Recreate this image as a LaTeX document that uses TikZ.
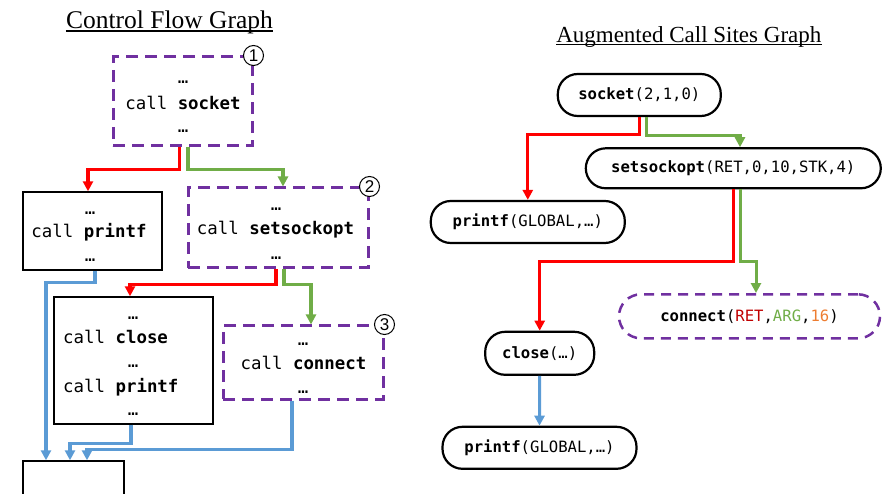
\documentclass[tikz,border=0pt]{standalone}
\usepackage{fontspec}
\setmainfont{Liberation Serif}
\newfontfamily\codefont{DejaVu Sans Mono}
\newfontfamily\numfont{Liberation Sans}
\usetikzlibrary{arrows.meta}

\definecolor{cfpurple}{HTML}{7030A0}
\definecolor{flowred}{HTML}{FF0000}
\definecolor{flowgreen}{HTML}{70AD47}
\definecolor{flowblue}{HTML}{5B9BD5}
\definecolor{argred}{HTML}{C00000}
\definecolor{argorange}{HTML}{ED7D31}

\tikzset{
  heading/.style={inner sep=0pt, anchor=base, font=\fontsize{#1}{#1}\selectfont},
  uline/.style={line width=1.2pt},
  codeline/.style={inner sep=0pt, anchor=base, font=\codefont\fontsize{17.4}{20}\selectfont},
  codeleft/.style={codeline, anchor=base west},
  dashblock/.style={draw=cfpurple, line width=3pt, dash pattern=on 12pt off 7pt, inner sep=0pt},
  plainblock/.style={draw=black, line width=1.4pt, inner sep=0pt},
  badge/.style={circle, draw=black, line width=1pt, fill=white, minimum size=20pt,
    inner sep=0pt, font=\numfont\fontsize{17}{17}\selectfont},
  callsite/.style={draw=black, line width=2.2pt, rounded corners=20pt, inner sep=0pt,
    font=\codefont\fontsize{15.6}{18}\selectfont},
  tip/.style={-{Triangle[length=10pt,width=10pt]}},
  redflow/.style={draw=flowred, line width=3.6pt, tip},
  greenflow/.style={draw=flowgreen, line width=3.2pt, tip},
  blueflow/.style={draw=flowblue, line width=3.2pt, tip},
}

\begin{document}
\begin{tikzpicture}[x=1pt, y=-1pt]
\useasboundingbox (0,0) rectangle (889,494);
\clip (0,0) rectangle (889,494);

% ---------- left: control flow graph ----------
\node[heading=25.5] (t1) at (169.5,28.5) {Control Flow Graph};
\draw[uline] ([yshift=-2.5pt]t1.base west) -- ([yshift=-2.5pt]t1.base east);

% block 1: socket
\node[dashblock, minimum width=139pt, minimum height=89pt] (b1) at (182.5,101.5) {};
\node[badge] (n1) at (b1.north east) {1};
\node[codeline] (b1a) at (183,84) {…};
\node[codeline] (b1b) at (183,110) {call \textbf{socket}};
\node[codeline] (b1c) at (183,133) {…};

% block: printf
\node[plainblock, minimum width=139pt, minimum height=78pt] (p1) at (92.5,231) {};
\node[codeline] (p1a) at (90,214.5) {…};
\node[codeline] (p1b) at (89,238) {call \textbf{printf}};
\node[codeline] (p1c) at (90,262) {…};

% block 2: setsockopt
\node[dashblock, minimum width=180pt, minimum height=80pt] (b2) at (278,228) {};
\node[badge] (n2) at (b2.north east) {2};
\node[codeline] (b2a) at (276,211) {…};
\node[codeline] (b2b) at (275.5,235) {call \textbf{setsockopt}};
\node[codeline] (b2c) at (276,259.5) {…};

% block: close / printf
\node[plainblock, minimum width=159pt, minimum height=127pt] (c1) at (133.5,360.5) {};
\node[codeline] (c1a) at (133,319.5) {…};
\node[codeleft] (c1b) at (63,344) {call \textbf{close}};
\node[codeline] (c1c) at (133,367.5) {…};
\node[codeleft] (c1d) at (63,392) {call \textbf{printf}};
\node[codeline] (c1e) at (133,415.5) {…};

% block 3: connect
\node[dashblock, minimum width=160pt, minimum height=73pt] (b3) at (303,362.5) {};
\node[badge] (n3) at (b3.north east) {3};
\node[codeline] (b3a) at (303,345.5) {…};
\node[codeline] (b3b) at (303.5,370) {call \textbf{connect}};
\node[codeline] (b3c) at (303,393.5) {…};

% exit block
\node[plainblock, minimum width=101pt, minimum height=60pt] (e1) at (73.5,491) {};

% edges
\draw[redflow] ([xshift=-3]b1.south) -- ++(0,22) -| ([xshift=-4.5]p1.north);
\draw[greenflow] ([xshift=5.5]b1.south) -- ++(0,22) -| ([xshift=5]b2.north);
\draw[redflow] ([xshift=-2]b2.south) -- ++(0,15) -| ([xshift=-3.5]c1.north);
\draw[greenflow] ([xshift=6]b2.south) -- ++(0,15) -| ([xshift=8]b3.north);
\draw[blueflow] ([xshift=2.5]p1.south) -- ++(0,12) -| ([xshift=-27.5]e1.north);
\draw[blueflow] ([xshift=-2.5]c1.south) -- ++(0,19) -| ([xshift=-3.5]e1.north);
\draw[blueflow] ([xshift=-11]b3.south) -- ++(0,49) -| ([xshift=13.5]e1.north);

% ---------- right: augmented call sites graph ----------
\node[heading=23] (t2) at (688.8,42.5) {Augmented Call Sites Graph};
\draw[uline] ([yshift=-2.2pt]t2.base west) -- ([yshift=-2.2pt]t2.base east);

\node[callsite, minimum width=163pt, minimum height=42pt] (s1) at (639.3,95)
  {\textbf{socket}(2,1,0)};
\node[callsite, minimum width=295pt, minimum height=40pt] (ss) at (733.3,168.3)
  {\textbf{setsockopt}(RET,0,10,STK,4)};
\node[callsite, minimum width=194pt, minimum height=42pt] (pf1) at (527.8,222)
  {\textbf{printf}(GLOBAL,…)};
\node[callsite, draw=cfpurple, line width=2.5pt, dash pattern=on 10pt off 7pt,
  rounded corners=22pt, minimum width=261pt, minimum height=44pt] (cn) at (749.5,316.3)
  {\textbf{connect}(\textcolor{argred}{RET},\textcolor{flowgreen}{ARG},\textcolor{argorange}{16})};
\node[callsite, minimum width=109pt, minimum height=43pt] (cl) at (539.7,353.3)
  {\textbf{close}(…)};
\node[callsite, minimum width=194pt, minimum height=42pt] (pf2) at (539.5,447.8)
  {\textbf{printf}(GLOBAL,…)};

\draw[redflow, line width=3.3pt] (s1.south) -- ++(0,17.3) -| (pf1.north);
\draw[greenflow, line width=3pt] ([xshift=7]s1.south) -- ++(0,18) -| ([xshift=6.7]ss.north);
\draw[redflow, line width=3.3pt] (ss.south) -- ++(0,72) -| (cl.north);
\draw[greenflow, line width=3pt] ([xshift=6.7]ss.south) -- ++(0,72) -| ([xshift=6.5]cn.north);
\draw[blueflow, line width=3pt] (cl.south) -- (pf2.north);
\end{tikzpicture}
\end{document}
